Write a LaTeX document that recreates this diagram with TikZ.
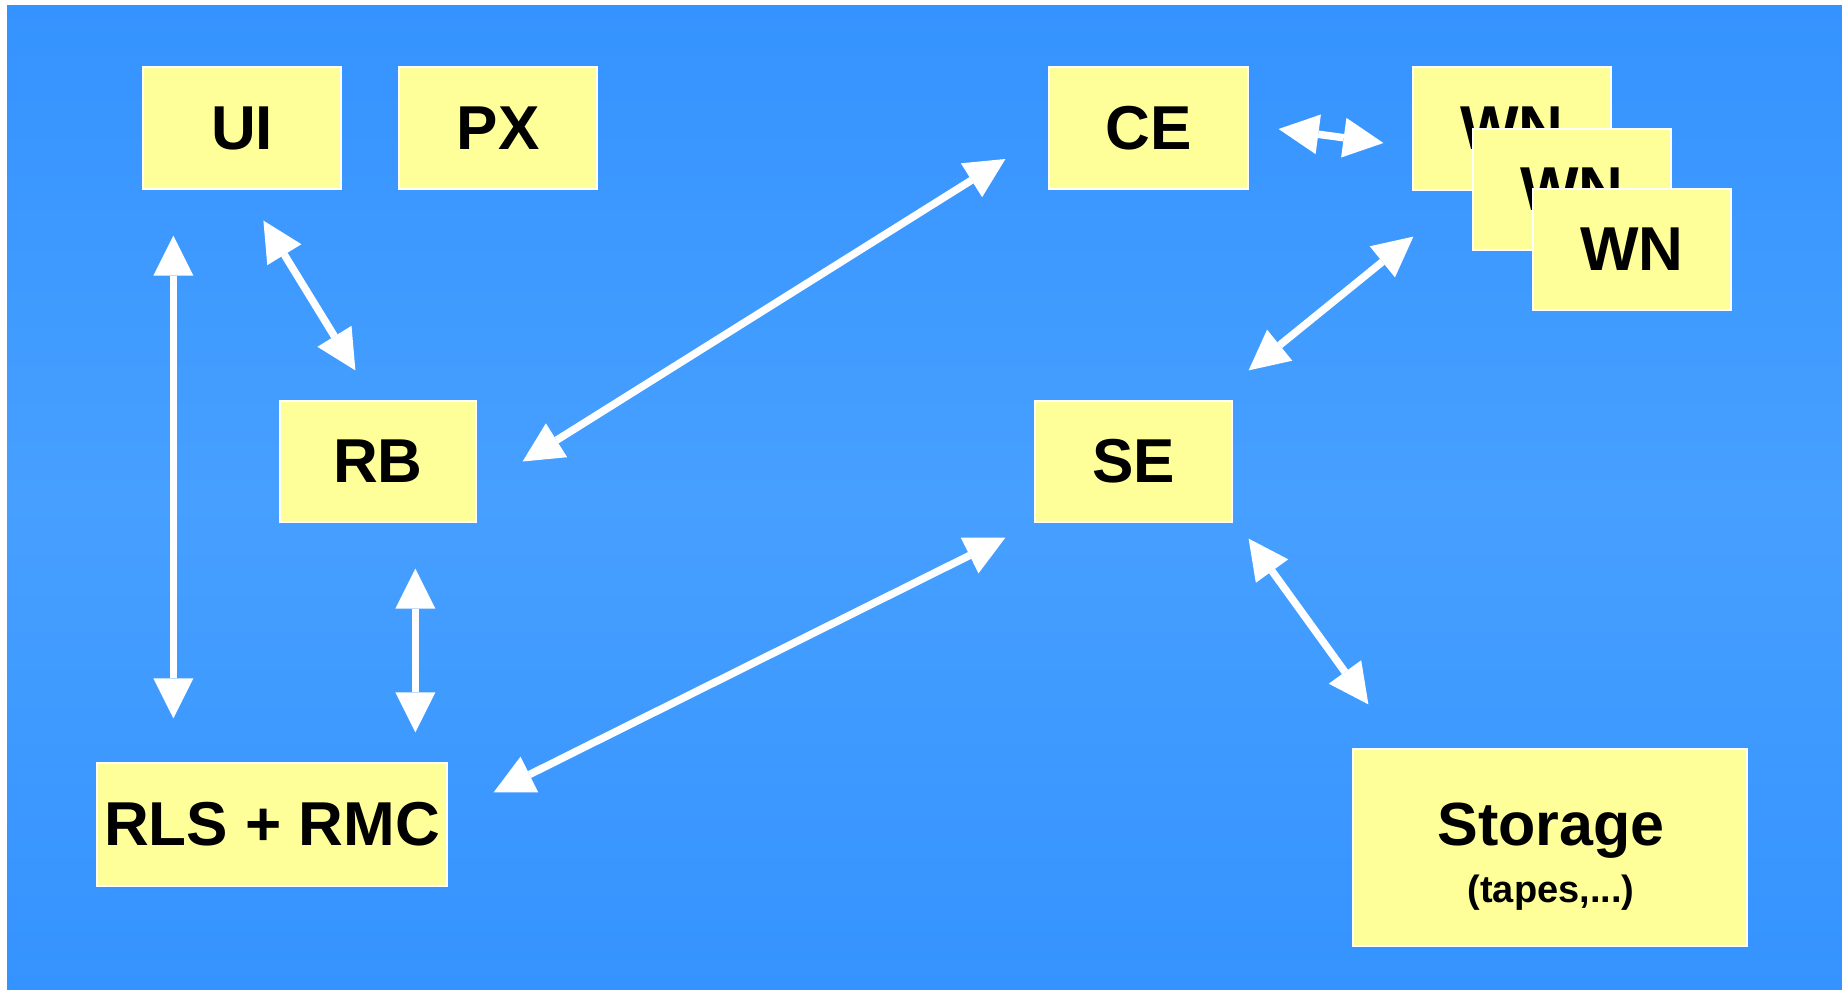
\documentclass[tikz,border=0pt]{standalone}
\usepackage{fontspec}
\setmainfont{Liberation Sans}
\usetikzlibrary{arrows.meta,calc}
\definecolor{boxyellow}{HTML}{FFFF99}
\definecolor{bgedge}{HTML}{3593FF}
\definecolor{bgmid}{HTML}{47A0FF}
\tikzset{
  box/.style={fill=boxyellow, draw=white, line width=1.2pt, inner sep=0pt,
    font=\fontsize{62}{70}\selectfont\bfseries, text=black},
  arr/.style={draw=white, line width=7.5pt,
    {Triangle[length=40pt,width=40pt,line width=0pt]}-{Triangle[length=40pt,width=40pt,line width=0pt]}},
}
\begin{document}
\begin{tikzpicture}[x=1pt,y=-1pt]
\useasboundingbox (0,0) rectangle (1842,990);
\fill[white] (0,0) rectangle (1842,990);
\shade[top color=bgedge, bottom color=bgedge, middle color=bgmid] (7,6) rectangle (1842,990);

\node[box, minimum width=198pt, minimum height=122pt] (ui) at (242,128) {UI};
\node[box, minimum width=198pt, minimum height=122pt] (px) at (498,128) {PX};
\node[box, minimum width=199pt, minimum height=122pt] (ce) at (1148.5,128) {CE};
\node[box, minimum width=198pt, minimum height=123pt] (wn1) at (1512,128.5) {WN};
\node[box, minimum width=198pt, minimum height=121pt] (wn2) at (1572,189.5) {WN};
\node[box, minimum width=198pt, minimum height=121pt] (wn3) at (1632,249.5) {WN};
\node[box, minimum width=196pt, minimum height=121pt] (rb) at (378,461.5) {RB};
\node[box, minimum width=197pt, minimum height=121pt] (se) at (1133.5,461.5) {SE};
\node[box, minimum width=350pt, minimum height=123pt] (rls) at (272,824.5) {RLS + RMC};
\node[box, minimum width=394pt, minimum height=197pt] (storage) at (1550,847.5) {};
\node[anchor=base, inner sep=0pt, font=\fontsize{61}{70}\selectfont\bfseries] (stor1)
  at ([shift={(1,-2.5)}]storage.center) {Storage};
\node[anchor=base, inner sep=0pt, font=\fontsize{38}{46}\selectfont\bfseries] (stor2)
  at ([shift={(1,54.5)}]storage.center) {(tapes,...)};

\draw[arr] ([shift={(31,46)}]ui.south west) -- ([shift={(77,-44)}]rls.north west);
\draw[arr] ([shift={(121,31)}]ui.south west) -- ([shift={(76,-30)}]rb.north west);
\draw[arr] ([shift={(46,0)}]rb.east) -- ([shift={(-43,31)}]ce.west);
\draw[arr] ([shift={(30,1)}]ce.east) -- ([shift={(-29,14.5)}]wn1.west);
\draw[arr] ([shift={(1,46)}]wn1.south west) -- ([shift={(16,-30)}]se.north east);
\draw[arr] ([shift={(136,46)}]rb.south west) -- ([shift={(319,-30)}]rls.north west);
\draw[arr] ([shift={(46,30)}]rls.north east) -- ([shift={(-29,15)}]se.south west);
\draw[arr] ([shift={(16,16)}]se.south east) -- ([shift={(16,-44)}]storage.north west);
\end{tikzpicture}
\end{document}
